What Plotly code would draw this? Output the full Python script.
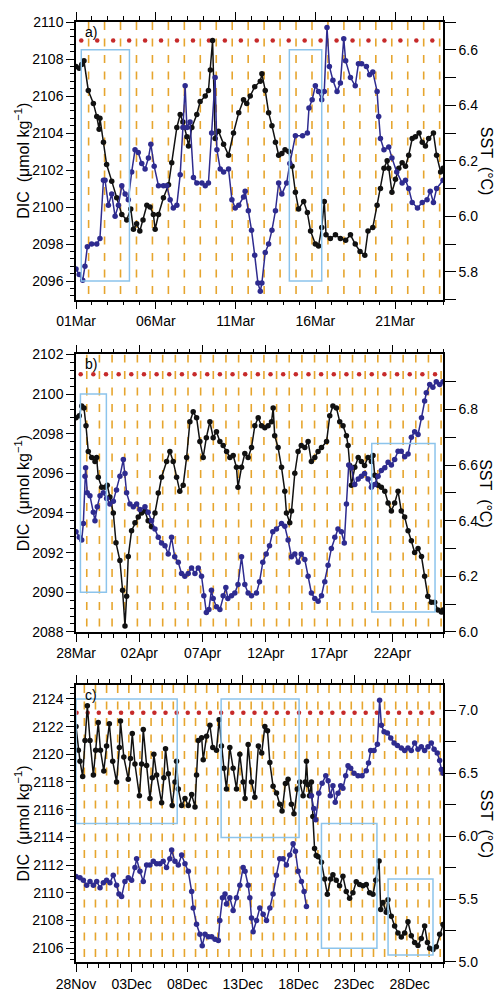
import pandas as pd
import plotly.graph_objects as go

# ---------------- data (time in days from panel start) ----------------
# panel a : 01 Mar - 24 Mar
a_start = "2013-03-01"
a_days = 23
a_dic_t = [0.0, 0.2, 0.36, 0.5, 0.77, 1.09, 1.3, 1.45, 1.5, 1.72, 1.92, 2.24, 2.55, 2.87, 3.18, 3.43, 3.6, 3.8, 4.0, 4.2,
           4.44, 4.64, 4.85, 4.96, 5.17, 5.48, 5.8, 6.0, 6.32, 6.53, 6.7, 6.95, 7.05, 7.26, 7.57, 7.78, 8.1, 8.3, 8.42,
           8.56, 8.72, 8.93, 9.25, 9.56, 9.87, 10.2, 10.5, 10.7, 10.92, 11.2, 11.55, 11.65, 11.86, 12.07, 12.28, 12.5,
           12.7, 12.9, 13.1, 13.33, 13.54, 13.75, 13.95, 14.27, 14.5, 14.7, 15.0, 15.2, 15.4, 15.56, 15.67, 15.94,
           16.26, 16.57, 16.9, 17.2, 17.5, 17.8, 18.1, 18.3, 18.6, 18.87, 19.08, 19.3, 19.5, 19.6, 19.8, 20.02, 20.23,
           20.44, 20.65, 20.85, 21.07, 21.27, 21.5, 21.7, 21.9, 22.1, 22.4, 22.6, 22.85, 23.0]
a_dic_v = [2107.6, 2107.5, 2107.7, 2107.9, 2106.3, 2105.6, 2104.9, 2104.2, 2104.8, 2103.5, 2102.3, 2101.4, 2100.5,
           2099.6, 2099.3, 2099.9, 2098.8, 2099.1, 2098.7, 2099.3, 2100.1, 2100.0, 2099.6, 2098.8, 2099.6, 2100.5,
           2101.2, 2102.4, 2104.3, 2105.0, 2104.6, 2103.8, 2103.3, 2104.3, 2105.0, 2105.7, 2106.0, 2106.3, 2107.4,
           2109.0, 2103.7, 2104.1, 2103.4, 2102.8, 2104.0, 2105.1, 2105.8, 2105.6, 2106.0, 2106.5, 2106.8, 2107.2,
           2106.3, 2105.1, 2104.4, 2103.5, 2102.8, 2102.9, 2103.1, 2103.0, 2102.2, 2100.8, 2099.9, 2100.3, 2099.7,
           2098.7, 2098.0, 2097.9, 2098.9, 2100.3, 2098.5, 2098.3, 2098.5, 2098.3, 2098.2, 2098.5, 2098.0, 2097.6,
           2097.4, 2098.7, 2098.9, 2100.1, 2101.0, 2102.1, 2102.5, 2102.1, 2100.8, 2101.5, 2102.1, 2102.4, 2102.2,
           2102.8, 2103.7, 2103.8, 2104.0, 2103.5, 2103.3, 2103.7, 2104.0, 2102.8, 2101.9, 2102.1]
a_sst_t = [0.0, 0.2, 0.42, 0.56, 0.71, 0.98, 1.3, 1.5, 1.72, 1.82, 2.03, 2.24, 2.45, 2.66, 2.87, 3.08, 3.28, 3.49, 3.7,
           3.9, 4.12, 4.33, 4.54, 4.69, 4.9, 5.17, 5.48, 5.69, 5.9, 6.1, 6.32, 6.53, 6.7, 6.84, 6.95, 7.15, 7.36, 7.57,
           7.89, 8.1, 8.3, 8.5, 8.72, 8.83, 9.04, 9.25, 9.56, 9.77, 9.98, 10.2, 10.5, 10.6, 10.8, 11.0, 11.2, 11.4,
           11.55, 11.65, 11.86, 12.07, 12.28, 12.5, 12.7, 12.9, 13.2, 13.4, 13.75, 14.2, 14.5, 14.6, 14.8, 15.0, 15.2,
           15.4, 15.56, 15.73, 15.88, 16.1, 16.36, 16.57, 16.78, 16.9, 17.2, 17.5, 17.7, 17.9, 18.2, 18.4, 18.6,
           18.87, 18.97, 19.08, 19.3, 19.6, 19.8, 20.1, 20.44, 20.65, 20.85, 21.07, 21.4, 21.7, 22.0, 22.2, 22.4,
           22.6, 23.0]
a_sst_v = [5.81, 5.79, 5.77, 5.82, 5.89, 5.90, 5.90, 5.92, 6.13, 6.13, 6.04, 6.08, 6.00, 6.04, 6.11, 6.08, 6.06, 6.16,
           6.24, 6.23, 6.19, 6.17, 6.21, 6.26, 6.18, 6.11, 6.11, 6.11, 6.06, 6.03, 6.04, 6.15, 6.32, 6.47, 6.32, 6.34,
           6.14, 6.12, 6.12, 6.11, 6.12, 6.30, 6.50, 6.24, 6.17, 6.16, 6.17, 6.06, 6.03, 6.04, 6.07, 6.09, 6.02, 5.95,
           5.86, 5.76, 5.73, 5.76, 5.87, 5.90, 5.95, 6.02, 6.12, 6.08, 6.12, 6.19, 6.29, 6.29, 6.30, 6.39, 6.42, 6.47,
           6.45, 6.42, 6.45, 6.68, 6.54, 6.49, 6.45, 6.48, 6.64, 6.56, 6.50, 6.47, 6.55, 6.55, 6.54, 6.51, 6.52, 6.45,
           6.36, 6.28, 6.24, 6.25, 6.21, 6.16, 6.12, 6.13, 6.10, 6.05, 6.03, 6.05, 6.06, 6.09, 6.05, 6.10, 6.13]
a_dic_range = [2095, 2110]
a_sst_range = [5.7, 6.7]
a_tide_first, a_dot_first, a_dot_level = 0.79, 0.33, 2109
a_boxes = [(0.33, 3.35, 2096, 2108.5), (13.37, 15.4, 2096, 2108.5)]

# panel b : 28 Mar - 26 Apr
b_start = "2013-03-28"
b_days = 29
b_dic_t = [0.0, 0.26, 0.45, 0.63, 0.79, 0.97, 1.24, 1.5, 1.63, 1.76, 2.03, 2.29, 2.47, 2.68, 2.95, 3.16, 3.47, 3.68,
           3.87, 4.0, 4.13, 4.39, 4.66, 4.92, 5.18, 5.45, 5.7, 5.97, 6.24, 6.5, 6.76, 7.16, 7.42, 7.68, 7.95, 8.2, 8.47,
           8.74, 9.0, 9.26, 9.53, 9.79, 10.05, 10.3, 10.58, 10.84, 11.1, 11.37, 11.63, 11.9, 12.16, 12.42, 12.68, 12.8,
           13.08, 13.34, 13.6, 13.87, 14.13, 14.4, 14.66, 14.92, 15.18, 15.45, 15.58, 15.7, 15.97, 16.24, 16.5, 16.63,
           16.89, 17.03, 17.29, 17.55, 17.8, 18.08, 18.34, 18.6, 18.87, 19.13, 19.4, 19.8, 20.05, 20.3, 20.58, 20.84,
           21.1, 21.37, 21.5, 21.63, 21.76, 22.03, 22.3, 22.55, 22.8, 23.08, 23.34, 23.47, 23.6, 23.87, 24.13, 24.4,
           24.66, 24.92, 25.18, 25.45, 25.7, 25.97, 26.24, 26.5, 26.76, 27.03, 27.3, 27.55, 27.8, 28.08, 28.34, 28.6,
           28.87, 29.0]
b_dic_v = [2098.8, 2098.9, 2099.4, 2099.3, 2098.4, 2097.1, 2096.8, 2096.6, 2096.8, 2095.8, 2095.3, 2095.3, 2095.4,
           2094.8, 2094.0, 2092.5, 2091.6, 2090.1, 2088.3, 2089.8, 2091.8, 2093.1, 2093.5, 2093.8, 2094.0, 2094.1,
           2093.6, 2093.3, 2094.0, 2095.0, 2095.8, 2096.6, 2097.1, 2096.6, 2095.8, 2095.1, 2095.4, 2096.8, 2098.6,
           2099.1, 2098.8, 2097.6, 2096.8, 2097.8, 2098.6, 2097.8, 2098.1, 2097.6, 2097.4, 2097.1, 2096.8, 2096.9,
           2096.3, 2095.3, 2096.3, 2097.0, 2096.8, 2097.3, 2098.4, 2098.8, 2098.4, 2098.3, 2098.4, 2098.6, 2099.3,
           2097.9, 2097.3, 2096.3, 2095.1, 2094.0, 2093.5, 2094.1, 2096.0, 2097.1, 2097.4, 2097.3, 2097.6, 2096.6,
           2096.8, 2097.1, 2097.3, 2097.6, 2098.9, 2099.4, 2099.3, 2098.6, 2098.4, 2097.9, 2097.4, 2096.4, 2095.4,
           2096.3, 2096.8, 2096.6, 2096.4, 2096.8, 2096.6, 2096.9, 2095.9, 2095.4, 2095.3, 2095.1, 2094.5, 2094.1,
           2094.5, 2095.1, 2094.1, 2093.8, 2093.1, 2092.6, 2092.0, 2092.2, 2091.8, 2090.8, 2089.8, 2089.5, 2089.5,
           2089.1, 2089.0, 2089.1]
b_sst_t = [0.0, 0.26, 0.45, 0.58, 0.71, 0.76, 0.89, 1.1, 1.37, 1.5, 1.68, 1.9, 2.16, 2.42, 2.68, 2.95, 3.2, 3.47, 3.74,
           3.87, 4.0, 4.26, 4.53, 4.79, 5.05, 5.45, 5.7, 5.97, 6.24, 6.5, 6.76, 7.03, 7.29, 7.55, 7.8, 8.08, 8.34, 8.6,
           8.87, 9.13, 9.4, 9.66, 9.92, 10.1, 10.3, 10.5, 10.7, 10.84, 11.1, 11.37, 11.63, 11.84, 12.0, 12.29, 12.55,
           12.8, 13.08, 13.34, 13.6, 13.87, 14.26, 14.5, 14.76, 15.03, 15.29, 15.55, 15.84, 16.24, 16.5, 16.76, 17.03,
           17.29, 17.55, 17.8, 18.08, 18.34, 18.6, 18.87, 19.13, 19.4, 19.66, 19.92, 20.18, 20.45, 20.7, 20.97, 21.2,
           21.37, 21.55, 21.76, 22.03, 22.3, 22.55, 22.8, 23.08, 23.34, 23.6, 23.87, 24.13, 24.4, 24.66, 24.92, 25.18,
           25.45, 25.7, 25.97, 26.24, 26.5, 26.76, 27.03, 27.3, 27.55, 27.68, 27.95, 28.2, 28.47, 28.74, 29.0]
b_sst_v = [6.36, 6.34, 6.33, 6.39, 6.56, 6.59, 6.50, 6.49, 6.43, 6.40, 6.45, 6.49, 6.50, 6.48, 6.46, 6.47, 6.51, 6.56,
           6.62, 6.57, 6.50, 6.46, 6.45, 6.46, 6.44, 6.45, 6.43, 6.40, 6.37, 6.34, 6.32, 6.31, 6.28, 6.34, 6.27, 6.25,
           6.21, 6.20, 6.21, 6.23, 6.21, 6.23, 6.20, 6.13, 6.07, 6.08, 6.15, 6.12, 6.09, 6.08, 6.13, 6.16, 6.12, 6.13,
           6.14, 6.17, 6.27, 6.17, 6.14, 6.13, 6.14, 6.18, 6.25, 6.28, 6.31, 6.36, 6.37, 6.39, 6.38, 6.33, 6.27, 6.28,
           6.25, 6.28, 6.26, 6.20, 6.14, 6.12, 6.11, 6.13, 6.18, 6.24, 6.30, 6.34, 6.37, 6.36, 6.32, 6.46, 6.60, 6.59,
           6.53, 6.55, 6.56, 6.57, 6.55, 6.52, 6.53, 6.56, 6.58, 6.59, 6.61, 6.60, 6.62, 6.65, 6.65, 6.63, 6.64, 6.70,
           6.72, 6.71, 6.77, 6.83, 6.86, 6.89, 6.88, 6.90, 6.89, 6.90]
b_dic_range = [2088, 2102]
b_sst_range = [6.0, 6.998]
b_tide_first, b_dot_first, b_dot_level = 0.85, 0.37, 2101
b_boxes = [(0.35, 2.4, 2090, 2100), (23.37, 28.37, 2089, 2097.5)]

# panel c : 28 Nov - 31 Dec
c_start = "2013-11-28"
c_days = 33
c_dic_t = [0.0, 0.21, 0.36, 0.6, 0.81, 1.02, 1.26, 1.56, 1.77, 2.0, 2.2, 2.5, 2.75, 3.0, 3.3, 3.65, 3.9, 4.0, 4.3, 4.7,
           4.9, 5.06, 5.3, 5.7, 5.9, 6.05, 6.35, 6.65, 6.86, 7.0, 7.25, 7.7, 7.9, 8.05, 8.3, 8.65, 8.9, 9.04, 9.2, 9.5,
           9.8, 10.1, 10.4, 10.7, 10.84, 11.0, 11.3, 11.44, 11.74, 12.04, 12.3, 12.63, 12.87, 13.08, 13.3, 13.53,
           13.83, 14.13, 14.43, 14.73, 15.03, 15.2, 15.48, 15.78, 16.08, 16.4, 16.7, 16.98, 17.22, 17.43, 17.72, 18.03,
           18.32, 18.53, 18.83, 19.07, 19.37, 19.6, 19.9, 20.12, 20.42, 20.62, 20.72, 20.85, 21.0, 21.17, 21.3, 21.45,
           21.6, 21.78, 22.07, 22.37, 22.6, 22.9, 23.1, 23.4, 23.7, 24.0, 24.3, 24.6, 24.9, 25.2, 25.5, 25.8, 26.1,
           26.4, 26.7, 26.95, 27.25, 27.4, 27.6, 27.9, 28.05, 28.35, 28.65, 28.95, 29.25, 29.55, 29.85, 30.15, 30.45,
           30.75, 31.05, 31.35, 31.6, 31.8, 32.1, 32.4, 32.7, 33.0]
c_dic_v = [2122.0, 2120.3, 2119.5, 2118.4, 2121.0, 2123.5, 2121.0, 2118.5, 2120.3, 2122.3, 2120.3, 2118.8, 2120.6,
           2122.2, 2119.5, 2118.0, 2120.5, 2122.4, 2119.8, 2118.2, 2119.7, 2121.5, 2119.3, 2117.0, 2119.3, 2121.8,
           2119.2, 2116.8, 2118.3, 2120.0, 2118.5, 2116.5, 2118.3, 2120.4, 2118.6, 2116.3, 2118.0, 2119.5, 2117.5,
           2116.3, 2116.8, 2116.3, 2117.1, 2116.2, 2118.5, 2121.0, 2121.2, 2119.6, 2121.3, 2122.1, 2120.5, 2120.3,
           2122.5, 2120.6, 2119.0, 2117.5, 2120.5, 2119.0, 2117.5, 2120.0, 2118.0, 2116.8, 2120.7, 2118.0, 2116.9,
           2120.6, 2120.1, 2122.0, 2121.7, 2119.4, 2117.7, 2117.2, 2116.4, 2115.9, 2117.9, 2118.2, 2116.4, 2115.7,
           2117.5, 2118.0, 2117.0, 2118.0, 2119.5, 2117.8, 2117.0, 2118.0, 2115.5, 2113.2, 2112.7, 2112.6, 2112.2,
           2111.0, 2109.9, 2111.0, 2111.3, 2110.9, 2110.5, 2111.2, 2110.1, 2109.6, 2110.0, 2110.8, 2110.6, 2110.5,
           2110.6, 2110.0, 2109.9, 2110.9, 2112.3, 2108.8, 2109.3, 2108.6, 2109.5, 2108.3, 2107.6, 2107.1, 2106.8,
           2107.1, 2107.9, 2106.9, 2106.4, 2106.2, 2106.7, 2107.6, 2106.4, 2106.0, 2105.9, 2106.1, 2107.0, 2107.7]
c_sst_t = [0.0, 0.36, 0.66, 0.96, 1.26, 1.56, 1.86, 2.16, 2.46, 2.75, 3.05, 3.35, 3.65, 3.86, 4.1, 4.4, 4.7, 5.0, 5.3,
           5.45, 5.75, 6.05, 6.35, 6.65, 6.95, 7.25, 7.55, 7.84, 8.14, 8.44, 8.6, 8.9, 9.2, 9.5, 9.8, 10.1, 10.4, 10.54,
           10.84, 11.14, 11.35, 11.6, 11.9, 12.2, 12.5, 12.8, 12.93, 13.17, 13.4, 13.53, 13.83, 14.13, 14.43, 14.73,
           15.03, 15.2, 15.48, 15.63, 15.78, 15.93, 16.23, 16.53, 16.83, 17.13, 17.43, 17.72, 18.02, 18.32, 18.62,
           18.92, 19.22, 19.52, 19.73, 19.97, 20.27, 20.51, 20.72, 20.95, 21.17, 21.38, 21.56, 21.83, 22.13, 22.46,
           22.67, 22.87, 23.1, 23.31, 23.56, 23.8, 24.0, 24.25, 24.46, 24.7, 25.0, 25.36, 25.72, 26.1, 26.3, 26.5,
           26.8, 27.1, 27.3, 27.46, 27.7, 28.0, 28.3, 28.6, 28.9, 29.25, 29.55, 29.85, 30.15, 30.45, 30.75, 31.05,
           31.35, 31.65, 31.95, 32.2, 32.48, 32.7, 32.85, 33.0]
c_sst_v = [5.68, 5.67, 5.65, 5.61, 5.64, 5.61, 5.64, 5.59, 5.63, 5.65, 5.63, 5.69, 5.61, 5.54, 5.52, 5.64, 5.67, 5.65,
           5.75, 5.82, 5.72, 5.64, 5.77, 5.77, 5.80, 5.78, 5.78, 5.80, 5.75, 5.82, 5.89, 5.80, 5.77, 5.85, 5.78, 5.72,
           5.56, 5.43, 5.30, 5.22, 5.13, 5.22, 5.20, 5.20, 5.18, 5.17, 5.33, 5.51, 5.54, 5.46, 5.51, 5.41, 5.51, 5.61,
           5.75, 5.72, 5.61, 5.51, 5.35, 5.24, 5.33, 5.43, 5.38, 5.33, 5.43, 5.54, 5.69, 5.82, 5.82, 5.77, 5.85, 5.94,
           5.88, 5.72, 5.64, 5.56, 5.44, None, 6.32, 6.22, 6.13, 6.34, 6.42, 6.48, 6.44, 6.32, 6.40, 6.27, 6.34, 6.40,
           6.38, 6.48, 6.56, 6.54, 6.50, 6.48, 6.48, 6.52, 6.58, 6.68, 6.68, 6.73, 7.08, 6.88, 6.83, 6.82, 6.78, 6.74,
           6.72, 6.70, 6.68, 6.70, 6.68, 6.74, 6.69, 6.71, 6.68, 6.71, 6.74, 6.69, 6.66, 6.60, 6.53, 6.50]
c_dic_range = [2105, 2125]
c_sst_range = [5.0, 7.2]
c_tide_first, c_dot_first, c_dot_level = 0.75, 0.05, 2123
c_boxes = [(0.0, 9.1, 2115, 2124), (13.05, 20.06, 2114, 2124), (22.07, 27.06, 2106, 2115), (28.06, 32.1, 2105.5, 2111)]

# ---------------- styling ----------------
W, H = 495, 1004
ML, MR, MT, MB = 76, 52, 21, 29
FONT = "Liberation Sans, Arial, Helvetica, sans-serif"
BLACK = "#111111"
BLUE = "#2E2B8F"
ORANGE = "#E6A52E"
RED = "#C62A2A"
BOXC = "#8CC4EC"
DAY_MS = 86400000

panels = [
    dict(start=a_start, days=a_days, dic_t=a_dic_t, dic_v=a_dic_v, sst_t=a_sst_t, sst_v=a_sst_v,
         dr=a_dic_range, sr=a_sst_range, tide=a_tide_first, dot=a_dot_first, dotlev=a_dot_level, boxes=a_boxes,
         dom=[0.7047, 1.0], sst_dtick=0.2, sst_minor=0.1, sst_tick0=5.8, label="a)"),
    dict(start=b_start, days=b_days, dic_t=b_dic_t, dic_v=b_dic_v, sst_t=b_sst_t, sst_v=b_sst_v,
         dr=b_dic_range, sr=b_sst_range, tide=b_tide_first, dot=b_dot_first, dotlev=b_dot_level, boxes=b_boxes,
         dom=[0.3512, 0.6464], sst_dtick=0.2, sst_minor=0.1, sst_tick0=6.0, label="b)"),
    dict(start=c_start, days=c_days, dic_t=c_dic_t, dic_v=c_dic_v, sst_t=c_sst_t, sst_v=c_sst_v,
         dr=c_dic_range, sr=c_sst_range, tide=c_tide_first, dot=c_dot_first, dotlev=c_dot_level, boxes=c_boxes,
         dom=[0.0, 0.2946], sst_dtick=0.5, sst_minor=0.25, sst_tick0=5.0, label="c)"),
]


def to_dt(start, days):
    s = pd.Timestamp(start)
    return [s + pd.Timedelta(days=d) for d in days]


fig = go.Figure()
layout = dict(width=W, height=H, margin=dict(l=ML, r=MR, t=MT, b=MB), paper_bgcolor="white",
              plot_bgcolor="white", showlegend=False, font=dict(family=FONT, size=14, color="black"))
shapes, annotations = [], []

for i, p in enumerate(panels):
    xn = "x" if i == 0 else f"x{i + 1}"
    yd = "y" if i == 0 else f"y{2 * i + 1}"
    ys = f"y{2 * i + 2}"
    xk = "xaxis" if i == 0 else f"xaxis{i + 1}"
    ydk = "yaxis" if i == 0 else f"yaxis{2 * i + 1}"
    ysk = f"yaxis{2 * i + 2}"
    start = pd.Timestamp(p["start"])
    end = start + pd.Timedelta(days=p["days"])
    n = p["days"]

    # orange dashed daily lines
    vx, vy = [], []
    for k in range(n):
        t = start + pd.Timedelta(days=p["tide"] + k)
        if t < end:
            vx += [t, t, None]
            vy += [p["dr"][1], p["dr"][0], None]
    fig.add_trace(go.Scatter(x=vx, y=vy, mode="lines", xaxis=xn, yaxis=yd, hoverinfo="skip",
                             line=dict(color=ORANGE, width=1.6, dash="8px,8.5px")))
    # red daily dots
    dx = [start + pd.Timedelta(days=p["dot"] + k) for k in range(n)]
    fig.add_trace(go.Scatter(x=dx, y=[p["dotlev"]] * len(dx), mode="markers", xaxis=xn, yaxis=yd,
                             marker=dict(color=RED, size=4.5)))
    # DIC
    fig.add_trace(go.Scatter(x=to_dt(p["start"], p["dic_t"]), y=p["dic_v"], mode="lines+markers",
                             xaxis=xn, yaxis=yd, line=dict(color=BLACK, width=1.5),
                             marker=dict(color=BLACK, size=5.5)))
    # SST
    fig.add_trace(go.Scatter(x=to_dt(p["start"], p["sst_t"]), y=p["sst_v"], mode="lines+markers",
                             xaxis=xn, yaxis=ys, line=dict(color=BLUE, width=1.5),
                             marker=dict(color=BLUE, size=5.5)))

    layout[xk] = dict(domain=[0, 1], anchor=yd, type="date", range=[start, end],
                      tick0=start, dtick=5 * DAY_MS, tickformat="%d%b", ticks="outside", ticklen=8,
                      tickwidth=1.2, tickcolor="black", showline=True, linecolor="black", linewidth=1.5,
                      mirror="ticks", showgrid=False, zeroline=False, tickfont=dict(size=14),
                      minor=dict(dtick=DAY_MS, tick0=start, ticks="outside", ticklen=4, tickcolor="black",
                                 tickwidth=1, showgrid=False))
    layout[ydk] = dict(domain=p["dom"], anchor=xn, range=p["dr"], dtick=2, tick0=2088, ticks="outside",
                       ticklen=8, tickwidth=1.2, tickcolor="black", showline=True, linecolor="black",
                       linewidth=1.5, showgrid=False, zeroline=False, tickfont=dict(size=14),
                       minor=dict(dtick=0.4, tick0=2088, ticks="outside", ticklen=4, tickcolor="black",
                                  tickwidth=1, showgrid=False))
    layout[ysk] = dict(overlaying=yd, anchor=xn, side="right", range=p["sr"], dtick=p["sst_dtick"],
                       tick0=p["sst_tick0"], tickformat=".1f", ticks="outside", ticklen=11, tickwidth=1.2,
                       tickcolor="black", showline=True, linecolor="black", linewidth=1.5, showgrid=False,
                       zeroline=False, tickfont=dict(size=14),
                       minor=dict(dtick=p["sst_minor"], tick0=p["sst_tick0"], ticks="outside", ticklen=11,
                                  tickcolor="black", tickwidth=1.2, showgrid=False))

    for (b0, b1, v0, v1) in p["boxes"]:
        shapes.append(dict(type="rect", xref=xn, yref=yd,
                           x0=start + pd.Timedelta(days=b0), x1=start + pd.Timedelta(days=b1),
                           y0=v0, y1=v1, line=dict(color=BOXC, width=1.5), fillcolor="rgba(0,0,0,0)"))

    annotations.append(dict(text=p["label"], xref=f"{xn} domain", yref=f"{yd} domain", x=0.018, y=1.0,
                            xanchor="left", yanchor="top", showarrow=False, font=dict(size=14)))
    annotations.append(dict(text="DIC\u00a0\u00a0(\u03bcmol\u00a0kg<sup>\u22121</sup>)", xref="paper",
                            yref=f"{yd} domain", x=-54 / 367, y=0.5, xanchor="center", yanchor="middle",
                            textangle=-90, showarrow=False, font=dict(size=16)))
    annotations.append(dict(text="SST\u00a0\u00a0(\u00b0C)", xref="paper", yref=f"{yd} domain",
                            x=1 + 43 / 367, y=0.5, xanchor="center", yanchor="middle",
                            textangle=90, showarrow=False, font=dict(size=16)))

layout["shapes"] = shapes
layout["annotations"] = annotations
fig.update_layout(**layout)
fig.write_html("out.html", config={"displayModeBar": False},
               post_script="document.body.style.margin='0px';")
